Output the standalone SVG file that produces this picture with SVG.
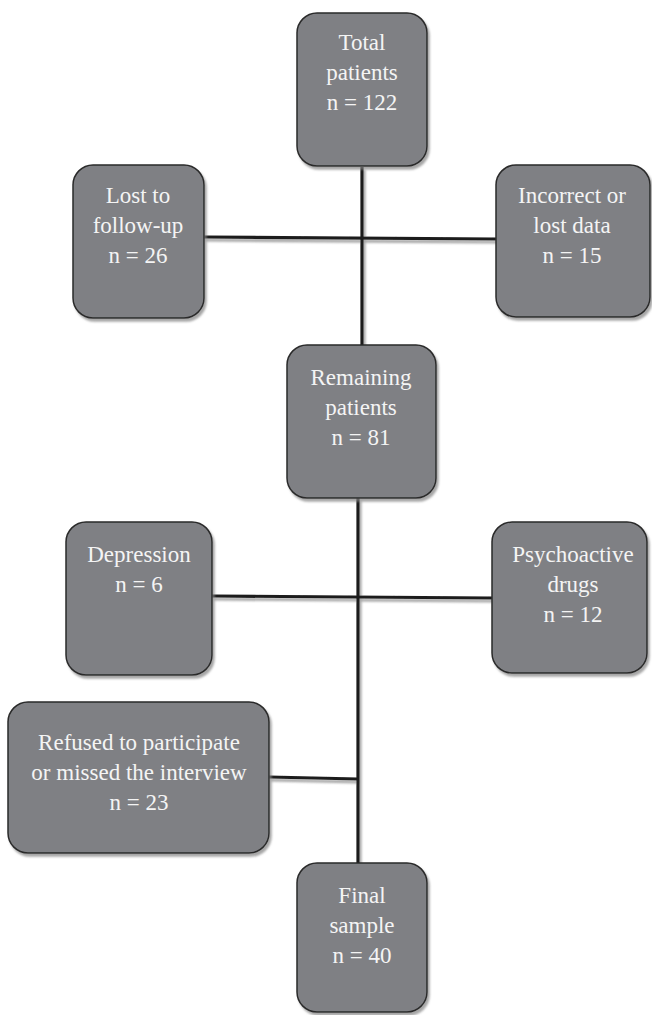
<svg xmlns="http://www.w3.org/2000/svg" width="652" height="1015" viewBox="0 0 652 1015">
<defs>
<filter id="sh" x="-10%" y="-10%" width="130%" height="130%">
<feDropShadow dx="2" dy="3" stdDeviation="1" flood-color="#808080" flood-opacity="0.7"/>
</filter>
<style>
.box{fill:#7f8084;stroke:#2a2a2a;stroke-width:1.5;filter:url(#sh)}
.t{font-family:"Liberation Serif","Times New Roman",serif;font-size:23px;fill:#f4f4f4;text-anchor:middle}
.ln{stroke:#1c1c1c;stroke-width:3.2;fill:none}
</style>
</defs>
<rect width="652" height="1015" fill="#ffffff"/>
<g id="connectors" filter="url(#sh)">
<line class="ln" x1="362" y1="167" x2="362" y2="346"/>
<line class="ln" x1="204" y1="237" x2="496" y2="239"/>
<line class="ln" x1="358" y1="498" x2="358" y2="864"/>
<line class="ln" x1="212" y1="596" x2="492" y2="598"/>
<line class="ln" x1="269" y1="777" x2="358" y2="779"/>
</g>
<g id="total">
<rect class="box" x="297" y="13" width="130" height="153" rx="20"/>
<text class="t" x="362" y="50">Total</text>
<text class="t" x="362" y="80">patients</text>
<text class="t" x="362" y="110">n = 122</text>
</g>
<g id="lost">
<rect class="box" x="73" y="165" width="131" height="153" rx="20"/>
<text class="t" x="138" y="203">Lost to</text>
<text class="t" x="138" y="233">follow-up</text>
<text class="t" x="138" y="263">n = 26</text>
</g>
<g id="incorrect">
<rect class="box" x="496" y="165" width="154" height="152" rx="20"/>
<text class="t" x="572" y="203">Incorrect or</text>
<text class="t" x="572" y="233">lost data</text>
<text class="t" x="572" y="263">n = 15</text>
</g>
<g id="remaining">
<rect class="box" x="287" y="345" width="149" height="153" rx="20"/>
<text class="t" x="361" y="385">Remaining</text>
<text class="t" x="361" y="415">patients</text>
<text class="t" x="361" y="445">n = 81</text>
</g>
<g id="depression">
<rect class="box" x="66" y="522" width="146" height="153" rx="20"/>
<text class="t" x="139" y="562">Depression</text>
<text class="t" x="139" y="592">n = 6</text>
</g>
<g id="psychoactive">
<rect class="box" x="492" y="522" width="155" height="151" rx="20"/>
<text class="t" x="573" y="562">Psychoactive</text>
<text class="t" x="573" y="592">drugs</text>
<text class="t" x="573" y="622">n = 12</text>
</g>
<g id="refused">
<rect class="box" x="8" y="702" width="261" height="151" rx="20"/>
<text class="t" x="139" y="750">Refused to participate</text>
<text class="t" x="139" y="780">or missed the interview</text>
<text class="t" x="139" y="810">n = 23</text>
</g>
<g id="final">
<rect class="box" x="297" y="863" width="130" height="149" rx="20"/>
<text class="t" x="362" y="903">Final</text>
<text class="t" x="362" y="933">sample</text>
<text class="t" x="362" y="963">n = 40</text>
</g>
</svg>
